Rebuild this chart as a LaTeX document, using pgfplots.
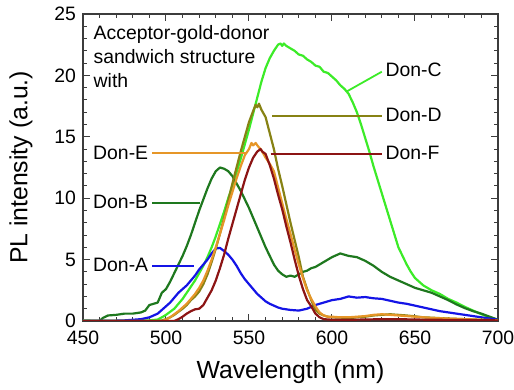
\documentclass[border=0pt]{standalone}
\usepackage{fontspec}
\setmainfont{Liberation Sans}
\usepackage{pgfplots}
\pgfplotsset{compat=1.18}
\definecolor{lgreen}{RGB}{60,235,40}
\definecolor{dgreen}{RGB}{30,120,30}
\definecolor{dblue}{RGB}{20,20,230}
\definecolor{olive}{RGB}{135,130,20}
\definecolor{orng}{RGB}{230,150,40}
\definecolor{dred}{RGB}{140,20,20}
\definecolor{axgray}{RGB}{60,60,60}
\begin{document}
\begin{tikzpicture}
\begin{axis}[
  scale only axis, width=207.5pt, height=153.5pt,
  xmin=450, xmax=700, ymin=0, ymax=25,
  xtick={450,500,...,700}, ytick={0,5,...,25},
  minor x tick num=4, minor y tick num=4,
  tick align=inside,
  major tick length=3.5pt, minor tick length=2pt,
  axis line style={axgray, line width=0.6pt},
  every tick/.style={axgray, line width=0.5pt},
  /pgf/number format/assume math mode=true,
  ticklabel style={font=\fontsize{9.7}{11}\selectfont},
  xticklabel style={yshift=-1.2pt},
  label style={font=\fontsize{12.4}{14}\selectfont},
  xlabel={Wavelength (nm)},
  ylabel={PL intensity (a.u.)},
  xlabel style={at={(axis description cs:0.5,-0.1661)}, anchor=center},
  ylabel style={at={(axis description cs:-0.1494,0.5)}, anchor=center},
  clip=true,
  every axis plot/.append style={line width=1.1pt, line join=round},
]
% Don-C
\addplot[lgreen] coordinates {(450,0.05)(455,0.03)(460,0.02)(465,0.03)(470,0.02)(475,0.03)(480,0.02)(485,0.04)(490,0.05)(495,0.12)(497.5,0.3)(500,0.5)(502.5,0.75)(505,1.0)(507.5,1.4)(510,1.8)(512.5,2.3)(515,2.8)(517.5,3.3)(520,3.9)(522.5,4.5)(525,5.2)(527.5,6.0)(530,6.9)(532.5,7.9)(535,8.9)(537.5,10.0)(540,11.0)(542.5,12.1)(545,13.2)(547.5,14.4)(550,15.6)(552.5,16.9)(555,18.2)(557.5,19.5)(560,20.6)(562.5,21.4)(565,22.0)(567.5,22.5)(569,22.6)(570,22.4)(571,22.6)(572.5,22.4)(575,22.2)(577.5,22.0)(580,21.7)(582.5,21.6)(585,21.3)(587.5,21.1)(590,20.8)(592.5,20.7)(595,20.3)(597.5,20.2)(600,19.9)(602.5,19.6)(605,19.2)(607.5,18.9)(610,18.5)(612.5,17.8)(615,17.0)(617.5,16.0)(620,14.9)(622.5,13.8)(625,12.6)(627.5,11.5)(630,10.4)(632.5,9.3)(635,8.2)(637.5,7.1)(640,6.0)(642.5,5.3)(645,4.6)(647.5,4.0)(650,3.5)(655,2.9)(660,2.5)(665,2.2)(670,1.8)(675,1.5)(680,1.15)(685,0.85)(690,0.55)(695,0.3)(700,0.08)};
% Don-B
\addplot[dgreen] coordinates {(450,0)(460,0)(462,0.25)(465,0.45)(470,0.5)(475,0.6)(480,0.6)(485,0.7)(487.5,0.85)(490,1.3)(492.5,1.4)(495,1.5)(497.5,2.3)(500,2.6)(502.5,3.2)(505,3.9)(507.5,4.6)(510,5.3)(512.5,6.1)(515,7.0)(517.5,8.0)(520,9.0)(522.5,9.9)(525,10.8)(527.5,11.6)(530,12.2)(532.5,12.5)(535,12.4)(537.5,12.2)(540,11.8)(542.5,11.2)(545,10.6)(547.5,9.9)(550,9.2)(552.5,8.4)(555,7.6)(557.5,6.8)(560,6.0)(562.5,5.3)(565,4.6)(567.5,4.1)(570,3.8)(572.5,3.6)(575,3.7)(577.5,3.6)(580,3.8)(582.5,4.0)(585,4.1)(587.5,4.3)(590,4.4)(595,4.8)(600,5.2)(605,5.5)(610,5.3)(615,5.2)(620,4.9)(625,4.5)(630,4.0)(635,3.6)(640,3.3)(645,3.0)(650,2.7)(655,2.5)(660,2.3)(665,2.0)(670,1.7)(675,1.35)(680,1.05)(685,0.8)(690,0.6)(695,0.35)(700,0.1)};
% Don-A
\addplot[dblue] coordinates {(450,0.02)(460,0.02)(470,0.03)(475,0.05)(480,0.1)(485,0.15)(490,0.3)(492.5,0.45)(495,0.6)(497.5,0.9)(500,1.2)(502.5,1.5)(505,1.9)(507.5,2.3)(510,2.6)(512.5,2.9)(515,3.3)(517.5,3.7)(520,4.2)(522.5,4.6)(525,5.0)(527.5,5.5)(530,5.9)(532.5,5.95)(535,5.7)(537.5,5.4)(540,5.0)(542.5,4.5)(545,3.9)(547.5,3.4)(550,3.0)(552.5,2.6)(555,2.2)(557.5,1.9)(560,1.6)(562.5,1.4)(565,1.25)(567.5,1.1)(570,1.0)(575,0.9)(580,0.85)(585,1.0)(590,1.3)(595,1.5)(600,1.7)(605,1.8)(610,2.0)(615,1.9)(620,1.95)(625,1.85)(630,1.8)(635,1.65)(640,1.5)(645,1.4)(650,1.25)(655,1.1)(660,0.95)(665,0.8)(670,0.7)(675,0.6)(680,0.5)(685,0.4)(690,0.3)(695,0.2)(700,0.1)};
% Don-D
\addplot[olive] coordinates {(450,0)(495,0)(497.5,0.05)(500,0.15)(502.5,0.3)(505,0.5)(507.5,0.75)(510,1.0)(512.5,1.3)(515,1.7)(517.5,2.0)(520,2.4)(522.5,3.0)(525,3.8)(527.5,4.8)(530,5.9)(532.5,7.1)(535,8.4)(537.5,9.8)(540,11.2)(542.5,12.5)(545,13.8)(547.5,15.0)(550,16.2)(552.5,17.1)(554,17.6)(555,17.4)(556,17.7)(557.5,17.2)(560,16.6)(562.5,15.3)(565,14.0)(567.5,12.4)(570,11.0)(572.5,9.5)(575,8.0)(577.5,6.6)(580,5.2)(582.5,3.6)(585,2.6)(587.5,1.7)(590,0.9)(592.5,0.6)(595,0.45)(597.5,0.35)(600,0.3)(605,0.28)(610,0.22)(615,0.3)(620,0.35)(625,0.45)(630,0.5)(635,0.55)(640,0.5)(645,0.45)(650,0.38)(655,0.3)(660,0.27)(670,0.2)(680,0.15)(690,0.1)(700,0.05)};
% Don-E
\addplot[orng] coordinates {(450,0)(497.5,0)(500,0.1)(502.5,0.3)(505,0.55)(507.5,0.8)(510,1.1)(512.5,1.4)(515,1.8)(517.5,2.2)(520,2.7)(522.5,3.3)(525,4.1)(527.5,5.0)(530,6.0)(532.5,7.1)(535,8.2)(537.5,9.4)(540,10.5)(542.5,11.6)(545,12.6)(547.5,13.5)(550,14.0)(551.5,14.5)(552.5,14.3)(554,14.5)(555,14.3)(557.5,13.9)(560,13.3)(562.5,12.8)(565,12.2)(567.5,10.9)(570,9.6)(572.5,8.3)(575,7.1)(577.5,5.8)(580,4.6)(582.5,3.5)(585,2.5)(587.5,1.8)(590,1.2)(592.5,0.7)(595,0.45)(597.5,0.35)(600,0.35)(605,0.3)(610,0.3)(615,0.35)(620,0.4)(625,0.5)(630,0.55)(635,0.5)(640,0.45)(645,0.4)(650,0.35)(660,0.25)(670,0.2)(680,0.15)(690,0.1)(700,0.05)};
% Don-F
\addplot[dred] coordinates {(450,0)(505,0)(507.5,0.15)(510,0.35)(512.5,0.6)(515,0.8)(517.5,0.95)(520,1.0)(522.5,1.3)(525,1.9)(527.5,2.5)(530,3.3)(532.5,4.3)(535,5.4)(537.5,6.7)(540,7.9)(542.5,9.1)(545,10.3)(547.5,11.5)(550,12.5)(552.5,13.3)(555,13.8)(557,14.0)(558,13.8)(560,13.6)(562.5,12.7)(565,11.6)(567.5,10.3)(570,9.1)(572.5,7.7)(575,6.4)(577.5,5.0)(580,3.7)(582.5,2.6)(585,1.7)(587.5,1.2)(590,0.6)(592.5,0.3)(595,0.15)(600,0.1)(610,0.1)(620,0.12)(630,0.15)(640,0.15)(650,0.12)(660,0.1)(680,0.08)(700,0.05)};
% label lines
\addplot[lgreen, line width=0.9pt] coordinates {(609,18.7)(630,20.3)};
\addplot[olive, line width=0.9pt] coordinates {(564,16.7)(630,16.7)};
\addplot[dred, line width=0.9pt] coordinates {(563,13.57)(630,13.57)};
\addplot[orng, line width=0.9pt] coordinates {(491.6,13.65)(548.8,13.65)};
\addplot[dgreen, line width=0.9pt] coordinates {(491.6,9.63)(520.7,9.63)};
\addplot[dblue, line width=0.9pt] coordinates {(491.6,4.5)(516.6,4.5)};
% texts
\begin{scope}[every node/.style={inner sep=0pt, font=\fontsize{9.7}{11}\selectfont}]
\node[anchor=base west] at (axis cs:456.2,22.9) {Acceptor-gold-donor};
\node[anchor=base west] at (axis cs:456.2,20.95) {sandwich structure};
\node[anchor=base west] at (axis cs:456.2,19.0) {with};
\node[anchor=west] at (axis cs:632,20.44) {Don-C};
\node[anchor=west] at (axis cs:632,16.78) {Don-D};
\node[anchor=west] at (axis cs:632,13.65) {Don-F};
\node[anchor=east] at (axis cs:489.5,13.72) {Don-E};
\node[anchor=east] at (axis cs:489.5,9.66) {Don-B};
\node[anchor=east] at (axis cs:489.5,4.56) {Don-A};
\end{scope}
\end{axis}
\pgfresetboundingbox
\path (current axis.south west) ++(-41.5pt,-34.5pt) rectangle ([shift={(8pt,7pt)}]current axis.north east);
\end{tikzpicture}
\end{document}
